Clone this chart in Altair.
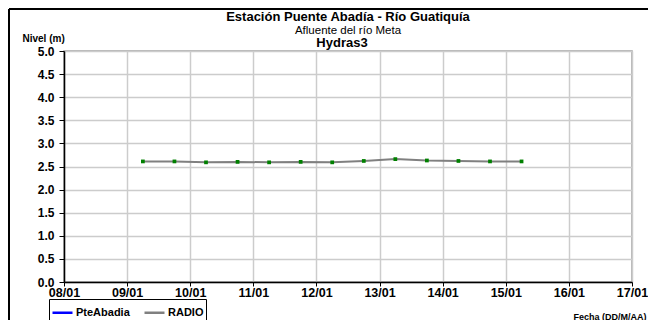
import altair as alt
import pandas as pd

# Data
fechas = [
    "2021-01-09T06:00", "2021-01-09T18:00", "2021-01-10T06:00", "2021-01-10T18:00",
    "2021-01-11T06:00", "2021-01-11T18:00", "2021-01-12T06:00", "2021-01-12T18:00",
    "2021-01-13T06:00", "2021-01-13T18:00", "2021-01-14T06:00", "2021-01-14T18:00",
    "2021-01-15T06:00",
]
nivel_radio = [2.61, 2.61, 2.59, 2.60, 2.59, 2.60, 2.59, 2.62, 2.66, 2.63, 2.62, 2.61, 2.61]
series = ["PteAbadia", "RADIO"]
series_colors = ["#0000ff", "#808080"]
x_domain = ["2021-01-08T00:00", "2021-01-17T00:00"]
y_ticks = [0.0, 0.5, 1.0, 1.5, 2.0, 2.5, 3.0, 3.5, 4.0, 4.5, 5.0]

df = pd.DataFrame({"fecha": fechas, "nivel": nivel_radio, "serie": ["RADIO"] * len(fechas)})

FONT = "Liberation Sans"

x_enc = alt.X(
    "fecha:T",
    scale=alt.Scale(domain=x_domain),
    axis=alt.Axis(
        title="Fecha (DD/M/AA)",
        format="%d/%m",
        tickCount={"interval": "day", "step": 1},
        titleX=582, titleY=34, titleAlign="right", titleBaseline="middle",
        titleFontSize=9, titleFontWeight="bold", titleFont=FONT,
        labelFlush=False, labelOverlap=False, labelFontSize=12.5, labelPadding=0.5,
        tickSize=4,
    ),
)
y_enc = alt.Y(
    "nivel:Q",
    scale=alt.Scale(domain=[0, 5], nice=False),
    axis=alt.Axis(
        title="Nivel (m)",
        values=y_ticks,
        tickCount=11,
        format=".1f",
        labelOverlap=False, labelFontSize=12, labelPadding=5,
        titleAngle=0, titleX=-42, titleY=-12.5, titleAlign="left", titleBaseline="middle",
        titleFontSize=10, titleFontWeight="bold", titleFont=FONT,
    ),
)

line = alt.Chart(df).mark_line(strokeWidth=2).encode(
    x=x_enc,
    y=y_enc,
    color=alt.Color(
        "serie:N",
        scale=alt.Scale(domain=series, range=series_colors),
        legend=alt.Legend(
            title=None, orient="none", legendX=-15, legendY=248, direction="horizontal",
            symbolType="stroke", symbolStrokeWidth=2.5, symbolSize=400,
            labelFont=FONT, labelFontSize=11, labelFontWeight="bold", labelColor="black",
            strokeColor="black", fillColor="white", padding=2, columnPadding=9,
            labelOffset=2,
        ),
    ),
)

pts = alt.Chart(df).mark_point(filled=True, shape="square", size=14, color="#008000", opacity=1).encode(
    x=x_enc, y=y_enc
)

sub3 = alt.Chart(pd.DataFrame({"t": ["Hydras3"]})).mark_text(
    font=FONT, fontSize=13, fontWeight="bold", color="black", baseline="middle"
).encode(x=alt.value(278), y=alt.value(-8), text="t:N")

frame_top = alt.Chart(pd.DataFrame({"a": [0]})).mark_rule(color="black", strokeWidth=2).encode(
    x=alt.value(-55), x2=alt.value(640), y=alt.value(-42)
)
frame_left = alt.Chart(pd.DataFrame({"a": [0]})).mark_rule(color="black", strokeWidth=2).encode(
    x=alt.value(-55), y=alt.value(-42), y2=alt.value(300)
)

chart = alt.layer(line, pts, sub3, frame_top, frame_left).properties(
    width=568,
    height=231,
    autosize=alt.AutoSizeParams(type="none"),
    padding={"left": 56, "top": 43, "right": 16, "bottom": 38},
    title=alt.Title(
        "Estación Puente Abadía  - Río Guatiquía",
        subtitle="Afluente del río Meta",
        font=FONT, fontSize=13, fontWeight="bold", color="black",
        subtitleFont=FONT, subtitleFontSize=11.5, subtitleColor="black",
        anchor="middle", offset=-28, subtitlePadding=1,
    ),
).configure_view(
    stroke="#a0a0a0", strokeWidth=1.5
).configure_axis(
    grid=True, gridColor="#cccccc", gridWidth=1.5,
    domainColor="black", domainWidth=1.5,
    tickColor="black", tickSize=5, tickWidth=1,
    labelFont=FONT, labelFontWeight="bold", labelColor="black",
    titleColor="black",
)

chart.save("out.html", embed_options={"renderer": "svg", "actions": False})
